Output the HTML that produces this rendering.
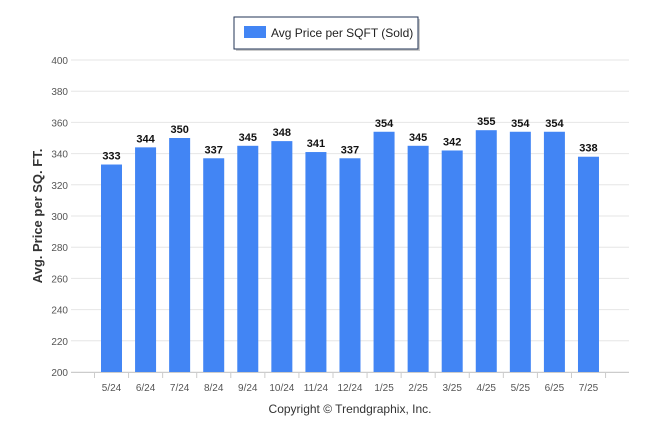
<!DOCTYPE html>
<html><head><meta charset="utf-8"><style>
body{margin:0;background:#fff;width:646px;height:434px;overflow:hidden;font-family:"Liberation Sans",sans-serif}
</style></head><body>
<svg id="chart" width="646" height="434" xmlns="http://www.w3.org/2000/svg" font-family="Liberation Sans, sans-serif">
<g>
<rect x="236" y="19" width="184" height="32" fill="#999" opacity="0.5"/>
<rect x="234" y="17" width="184" height="32" fill="#fff" stroke="#223355" stroke-width="1"/>
<rect x="244" y="26" width="22" height="12" fill="#4285f4"/>
<text x="271" y="37" font-size="12" fill="#222">Avg Price per SQFT (Sold)</text>
</g>
<g id="grid"></g><g id="bars"></g>
<text transform="translate(42,216) rotate(-90)" text-anchor="middle" font-size="13" font-weight="bold" fill="#333">Avg. Price per SQ. FT.</text>
<text x="350" y="413" text-anchor="middle" font-size="12" fill="#333">Copyright © Trendgraphix, Inc.</text>
</svg>
<script>
const categories=["5/24","6/24","7/24","8/24","9/24","10/24","11/24","12/24","1/25","2/25","3/25","4/25","5/25","6/25","7/25"];
const values=[333,344,350,337,345,348,341,337,354,345,342,355,354,354,338];
const yTicks=[200,220,240,260,280,300,320,340,360,380,400];
const NS="http://www.w3.org/2000/svg";
const y=v=>372-(v-200)*1.56;
const xc=i=>111.5+i*34.07;
const g=document.getElementById('grid'),b=document.getElementById('bars');
function mk(t,a,p){const e=document.createElementNS(NS,t);for(const k in a)e.setAttribute(k,a[k]);p.appendChild(e);return e;}
yTicks.forEach(t=>{
 const l=mk('line',{x1:71,x2:629,y1:y(t),y2:y(t),stroke:'#e6e6e6'},g);
 
 
 const tx=mk('text',{x:68,y:y(t)+4,'text-anchor':'end','font-size':10,fill:'#555'},g);
 tx.textContent=t;
 
 
});
mk('line',{x1:71,x2:629,y1:372.5,y2:372.5,stroke:'#ccc'},g);
for(let i=0;i<=categories.length;i++){mk('line',{x1:94.5+i*34.07,x2:94.5+i*34.07,y1:372,y2:378,stroke:'#ccc'},g);}
categories.forEach((c,i)=>{
 const r=mk('rect',{x:xc(i)-10.5,y:y(values[i]),width:21,height:372-y(values[i]),fill:'#4285f4'},b);
 
 
 const v=mk('text',{x:xc(i),y:y(values[i])-5,'text-anchor':'middle','font-size':11,'font-weight':'bold',fill:'#111'},b);
 v.textContent=values[i];
 
 
 const xl=mk('text',{x:xc(i),y:391,'text-anchor':'middle','font-size':10,fill:'#555'},b);
 xl.textContent=c;
 
 
});
</script>
</body></html>
